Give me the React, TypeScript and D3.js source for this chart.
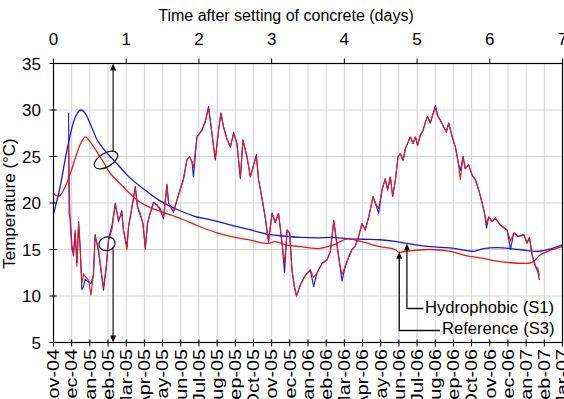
import React from "react";
import * as d3 from "d3";

// Axis categories and ticks
const monthLabels = [
  "Nov-04", "Dec-04", "Jan-05", "Feb-05", "Mar-05", "Apr-05", "May-05", "Jun-05",
  "Jul-05", "Aug-05", "Sep-05", "Oct-05", "Nov-05", "Dec-05", "Jan-06", "Feb-06",
  "Mar-06", "Apr-06", "May-06", "Jun-06", "Jul-06", "Aug-06", "Sep-06", "Oct-06",
  "Nov-06", "Dec-06", "Jan-07", "Feb-07", "Mar-07",
];
const dayTicks = [0, 1, 2, 3, 4, 5, 6, 7];
const tempTicks = [5, 10, 15, 20, 25, 30, 35];

// Early-age temperature after setting: [day, °C]
const earlyS1: [number, number][] = [
  [0, 18.8], [0.09, 21.7], [0.18, 25.5], [0.275, 28.7], [0.33, 29.7], [0.38, 30.0],
  [0.44, 29.6], [0.5, 28.6], [0.6, 26.8], [0.7, 25.7], [0.78, 25.0], [0.9, 24.0],
  [1.0, 23.1], [1.24, 21.5], [1.47, 20.2], [1.7, 19.3], [1.93, 18.6], [2.15, 18.2],
  [2.4, 17.7], [2.71, 17.1], [2.98, 16.6], [3.16, 16.45], [3.4, 16.3], [3.62, 16.25],
  [3.81, 16.3], [4.08, 16.15], [4.26, 16.1], [4.49, 16.05], [4.72, 15.85], [4.86, 15.65],
  [5.18, 15.3], [5.48, 15.15], [5.78, 14.8], [5.91, 15.1], [6.1, 15.2], [6.4, 15.0],
  [6.65, 14.8], [6.8, 15.0], [7.0, 15.5],
];
const earlyS3: [number, number][] = [
  [0, 21.0], [0.07, 20.7], [0.18, 22.1], [0.25, 23.6], [0.32, 25.3], [0.38, 26.5],
  [0.44, 27.1], [0.5, 26.6], [0.64, 25.0], [0.78, 23.2], [0.9, 22.2], [1.0, 21.4],
  [1.15, 20.3], [1.33, 19.5], [1.47, 19.1], [1.79, 18.2], [2.0, 17.5], [2.25, 16.8],
  [2.5, 16.3], [2.71, 16.0], [2.94, 15.65], [3.05, 15.85], [3.2, 15.5], [3.4, 15.3],
  [3.62, 15.1], [3.85, 15.5], [4.05, 16.15], [4.26, 15.8], [4.49, 15.3], [4.7, 15.0],
  [4.75, 14.7], [4.86, 14.8], [5.18, 15.0], [5.46, 14.8], [5.64, 14.4], [5.91, 14.05],
  [6.1, 13.75], [6.51, 13.5], [6.6, 13.7], [6.69, 14.4], [6.8, 14.8], [7.0, 15.3],
];

// Long-term field record: [months from Nov-04, S1 °C, S3 °C]
const fieldRecord: [number, number, number][] = [
  [0.83, 29.7, 26.4], [0.86, 18.7, 22.0], [0.92, 18.5, 17.8], [1.01, 15.5, 15.0],
  [1.10, 14.3, 14.6], [1.19, 16.8, 17.1], [1.29, 13.6, 13.2], [1.38, 18.0, 17.8],
  [1.47, 15.2, 15.0], [1.56, 10.7, 11.4], [1.65, 11.0, 12.4], [1.74, 11.8, 12.1],
  [1.93, 11.5, 11.7], [2.06, 11.3, 10.1], [2.20, 12.3, 12.5], [2.29, 16.6, 16.4],
  [2.48, 14.8, 15.0], [2.66, 12.0, 12.1], [2.75, 10.6, 10.9], [2.90, 13.0, 13.2],
  [3.03, 16.2, 16.0], [3.21, 17.5, 17.1], [3.40, 20.0, 19.8], [3.58, 18.0, 18.2],
  [3.76, 19.2, 18.9], [3.85, 17.0, 17.1], [4.04, 15.3, 15.0], [4.13, 17.5, 17.5],
  [4.31, 19.4, 19.6], [4.50, 21.8, 21.6], [4.62, 19.6, 19.6], [4.77, 18.7, 18.9],
  [4.92, 17.8, 17.8], [5.05, 15.2, 15.0], [5.17, 17.8, 17.8], [5.32, 18.9, 18.9],
  [5.50, 20.1, 20.0], [5.69, 19.8, 19.8], [5.87, 19.4, 19.2], [6.05, 18.3, 18.4],
  [6.24, 22.0, 21.9], [6.33, 20.0, 20.0], [6.60, 19.0, 19.1], [6.79, 20.3, 20.3],
  [6.97, 21.5, 21.4], [7.15, 22.6, 22.5], [7.34, 24.7, 24.6], [7.48, 25.0, 25.0],
  [7.62, 24.4, 24.4], [7.70, 22.8, 23.8], [7.89, 27.1, 27.1], [8.17, 27.9, 27.8],
  [8.35, 28.8, 28.7], [8.53, 30.4, 30.2], [8.62, 29.0, 28.9], [8.81, 26.0, 26.0],
  [8.90, 24.6, 24.8], [9.08, 27.8, 27.8], [9.21, 29.7, 29.6], [9.35, 28.2, 28.2],
  [9.54, 26.9, 26.9], [9.73, 26.0, 26.0], [9.91, 27.6, 27.5], [10.09, 26.4, 26.4],
  [10.28, 22.6, 22.8], [10.42, 26.8, 26.8], [10.64, 25.0, 25.0], [10.83, 22.8, 22.8],
  [11.01, 24.1, 24.1], [11.16, 25.2, 25.0], [11.28, 22.5, 22.5], [11.47, 20.5, 20.5],
  [11.65, 18.4, 18.4], [11.83, 15.8, 15.9], [12.02, 18.9, 18.9], [12.20, 17.9, 17.9],
  [12.38, 18.9, 18.9], [12.57, 15.7, 15.7], [12.71, 12.5, 13.5], [12.85, 17.1, 17.1],
  [12.99, 16.8, 16.75], [13.12, 12.8, 12.8], [13.25, 11.0, 11.0], [13.37, 10.0, 10.0],
  [13.58, 11.2, 11.2], [13.85, 12.2, 12.2], [14.13, 12.8, 12.8], [14.31, 11.0, 12.0],
  [14.50, 12.5, 12.5], [14.77, 13.5, 13.5], [15.05, 13.9, 13.9], [15.23, 14.8, 14.8],
  [15.42, 18.1, 18.1], [15.60, 15.4, 15.4], [15.74, 13.5, 13.5], [15.87, 11.6, 12.3],
  [16.05, 13.2, 13.2], [16.24, 14.2, 14.2], [16.42, 15.0, 15.0], [16.60, 15.4, 15.4],
  [16.76, 16.2, 16.2], [16.97, 17.8, 17.8], [17.15, 17.1, 17.1], [17.34, 18.5, 18.5],
  [17.58, 20.7, 20.7], [17.70, 20.0, 20.0], [17.89, 18.9, 19.4], [18.07, 21.4, 21.4],
  [18.25, 22.6, 22.6], [18.38, 21.4, 21.4], [18.53, 22.8, 22.8], [18.66, 20.7, 20.7],
  [18.81, 22.5, 22.5], [18.95, 25.0, 25.0], [19.08, 25.3, 25.3], [19.23, 24.6, 24.6],
  [19.36, 25.9, 25.9], [19.48, 26.4, 26.4], [19.63, 27.1, 27.1], [19.78, 26.4, 26.4],
  [19.91, 27.1, 27.1], [20.03, 26.2, 26.2], [20.18, 27.3, 27.3], [20.33, 27.8, 27.8],
  [20.46, 28.7, 28.7], [20.58, 29.3, 29.3], [20.73, 28.6, 28.6], [20.88, 29.6, 29.6],
  [21.01, 30.5, 30.3], [21.13, 29.4, 29.4], [21.28, 28.9, 28.9], [21.46, 28.2, 28.2],
  [21.61, 27.6, 27.65], [21.74, 28.6, 28.6], [21.93, 27.1, 27.1], [22.11, 26.0, 26.0],
  [22.29, 24.1, 24.1], [22.38, 23.5, 22.5], [22.53, 25.0, 25.0], [22.65, 23.7, 23.7],
  [22.84, 24.1, 24.1], [23.03, 23.0, 23.0], [23.21, 22.5, 22.5], [23.39, 21.4, 21.4],
  [23.58, 20.0, 20.0], [23.71, 18.9, 18.9], [23.82, 17.3, 17.8], [23.94, 18.5, 18.5],
  [24.13, 18.0, 18.0], [24.31, 18.4, 18.35], [24.59, 17.6, 17.6], [24.95, 17.1, 17.1],
  [25.14, 15.0, 15.9], [25.32, 16.8, 16.75], [25.58, 16.4, 16.4], [25.87, 16.6, 16.6],
  [26.05, 15.7, 15.7], [26.18, 16.3, 16.3], [26.33, 14.4, 14.4], [26.51, 13.2, 13.2],
  [26.64, 12.6, 13.0], [26.73, 11.7, 12.2],
];

// Annotation anchors in data space
const markerDay = 0.82;
const upperRing = { day: 0.722, temp: 24.62 };
const lowerRing = { day: 0.736, temp: 15.62 };
const s1Pointer = { day: 4.86, temp: 15.65 };
const s3Pointer = { day: 4.755, temp: 14.75 };

const W = 564;
const H = 399;
const L = 53.5;
const R = 562.5;
const T = 63.5;
const B = 342.5;
const FONT = "'Liberation Sans', Arial, Helvetica, sans-serif";
const BLUE = "#1414f0";
const RED = "#f01414";

export default function App() {
  const xMonth = d3.scaleLinear().domain([0, monthLabels.length - 1]).range([L, R]);
  const xDay = d3.scaleLinear().domain([0, 7]).range([L, R]);
  const y = d3.scaleLinear().domain([5, 35]).range([B, T]);

  const earlyLine = d3
    .line<[number, number]>()
    .x((d) => xDay(d[0]))
    .y((d) => y(d[1]))
    .curve(d3.curveMonotoneX);

  const fieldS1 = d3
    .line<[number, number, number]>()
    .x((d) => xMonth(d[0]))
    .y((d) => y(d[1]));
  const fieldS3 = d3
    .line<[number, number, number]>()
    .x((d) => xMonth(d[0]))
    .y((d) => y(d[2]));

  const ax = xDay(markerDay);
  const head = (x: number, yy: number, dir: number) =>
    `M${x},${yy} L${x - 3},${yy + dir * 7} L${x + 3},${yy + dir * 7} Z`;

  const p1x = xDay(s1Pointer.day);
  const p1y = y(s1Pointer.temp);
  const p3x = xDay(s3Pointer.day);
  const p3y = y(s3Pointer.temp);

  return (
    <svg
      width={W}
      height={H}
      viewBox={`0 0 ${W} ${H}`}
      style={{ position: "absolute", left: 0, top: 0, background: "#fff" }}
      fontFamily={FONT}
    >
      <rect x={0} y={0} width={W} height={H} fill="#fff" />

      {/* grid */}
      <g stroke="#d2d2d2" strokeWidth={1}>
        {monthLabels.slice(1, -1).map((_, i) => (
          <line key={`gv${i}`} x1={xMonth(i + 1)} x2={xMonth(i + 1)} y1={T} y2={B} />
        ))}
        {tempTicks.slice(1, -1).map((t) => (
          <line key={`gh${t}`} x1={L} x2={R} y1={y(t)} y2={y(t)} />
        ))}
      </g>

      {/* early-age curves */}
      <path d={earlyLine(earlyS1) ?? ""} fill="none" stroke={BLUE} strokeWidth={1.3} />
      <path d={earlyLine(earlyS3) ?? ""} fill="none" stroke={RED} strokeWidth={1.3} />

      {/* field record */}
      <path d={fieldS1(fieldRecord) ?? ""} fill="none" stroke={BLUE} strokeWidth={1.1} strokeLinejoin="round" />
      <path d={fieldS3(fieldRecord) ?? ""} fill="none" stroke={RED} strokeWidth={1.1} strokeLinejoin="round" />

      {/* frame */}
      <rect x={L} y={T} width={R - L} height={B - T} fill="none" stroke="#000" strokeWidth={1.2} />

      {/* bottom axis: months */}
      <g>
        {monthLabels.map((m, i) => (
          <g key={m}>
            <line x1={xMonth(i)} x2={xMonth(i)} y1={B - 3} y2={B + 4} stroke="#000" strokeWidth={1} />
            <text
              transform={`translate(${xMonth(i)},${B + 6.5}) rotate(-90) scale(1.2,1)`}
              textAnchor="end"
              dy="0.35em"
              fontSize={16.5}
              fill="#000"
            >
              {m}
            </text>
          </g>
        ))}
      </g>

      {/* top axis: days */}
      <g>
        {dayTicks.map((d) => (
          <g key={`d${d}`}>
            <line x1={xDay(d)} x2={xDay(d)} y1={T - 5} y2={T} stroke="#000" strokeWidth={1} />
            <text x={xDay(d)} y={45} textAnchor="middle" fontSize={17} fill="#000">
              {d}
            </text>
          </g>
        ))}
        <text x={286} y={21} textAnchor="middle" fontSize={16} fill="#000">
          Time after setting of concrete (days)
        </text>
      </g>

      {/* left axis */}
      <g>
        {tempTicks.map((t) => (
          <g key={`t${t}`}>
            <line x1={L - 4} x2={L + 3} y1={y(t)} y2={y(t)} stroke="#000" strokeWidth={1} />
            <text x={41} y={y(t)} dy="0.36em" textAnchor="end" fontSize={17} fill="#000">
              {t}
            </text>
          </g>
        ))}
        <text
          transform={`translate(15,${(T + B) / 2 + 0.5}) rotate(-90)`}
          textAnchor="middle"
          fontSize={17}
          fill="#000"
        >
          Temperature (°C)
        </text>
      </g>

      {/* ringed curves with arrows to their axes */}
      <g stroke="#111" strokeWidth={1.2} fill="none">
        <ellipse
          cx={xDay(upperRing.day)}
          cy={y(upperRing.temp)}
          rx={13}
          ry={6.8}
          transform={`rotate(-31 ${xDay(upperRing.day)} ${y(upperRing.temp)})`}
        />
        <ellipse
          cx={xDay(lowerRing.day)}
          cy={y(lowerRing.temp)}
          rx={8.2}
          ry={6.8}
          transform={`rotate(-15 ${xDay(lowerRing.day)} ${y(lowerRing.temp)})`}
        />
        <line x1={ax} x2={ax} y1={y(upperRing.temp) - 8} y2={T + 4} />
        <line x1={ax} x2={ax} y1={y(lowerRing.temp) + 4} y2={B - 4} />
      </g>
      <path d={head(ax, T, 1)} fill="#111" />
      <path d={head(ax, B, -1)} fill="#111" />

      {/* series callouts */}
      <g stroke="#111" strokeWidth={1.3} fill="none">
        <path d={`M${p1x},${p1y + 3} V308.5 H423.5`} />
        <path d={`M${p3x},${p3y + 3} V330.5 H440`} />
      </g>
      <path d={head(p1x, p1y, 1)} fill="#111" />
      <path d={head(p3x, p3y, 1)} fill="#111" />
      <text x={425} y={313} fontSize={16.6} fill="#000">
        Hydrophobic (S1)
      </text>
      <text x={442} y={334} fontSize={16.6} fill="#000">
        Reference (S3)
      </text>
    </svg>
  );
}
